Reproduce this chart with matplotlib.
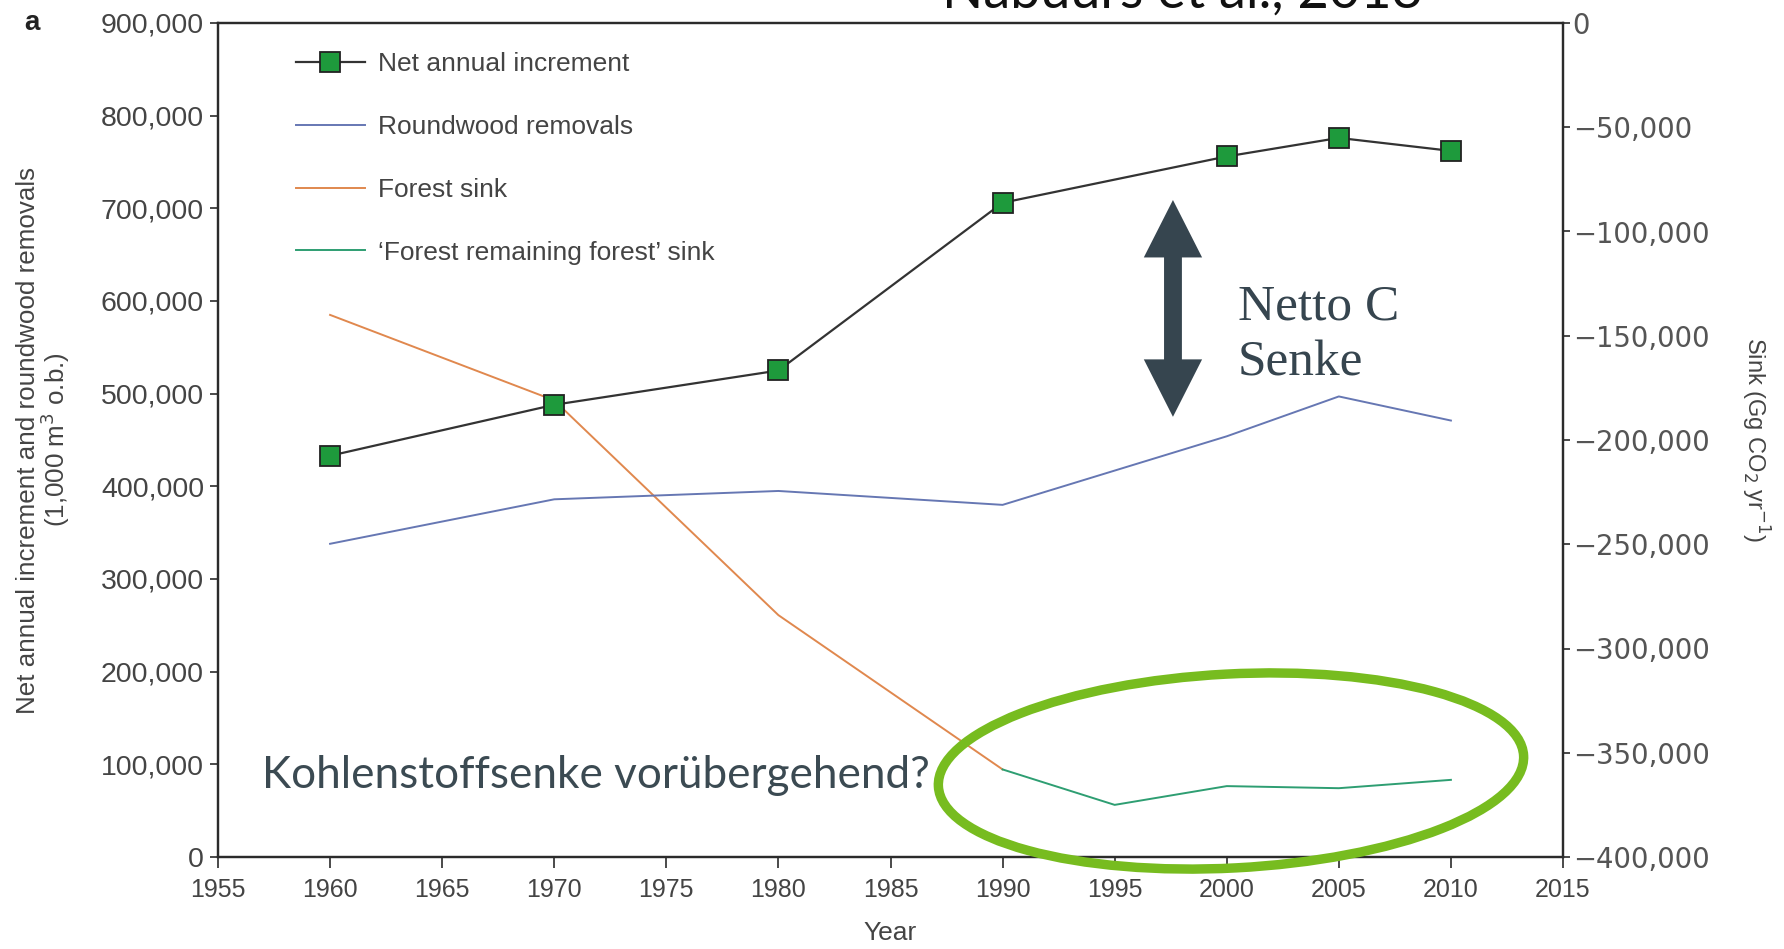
import matplotlib
matplotlib.use('Agg')
import matplotlib.pyplot as plt
import matplotlib.patches as mpatches
from matplotlib import font_manager
from matplotlib.ticker import FuncFormatter, MultipleLocator
from matplotlib.transforms import IdentityTransform

# ---------------- data ----------------
years_nai = [1960, 1970, 1980, 1990, 2000, 2005, 2010]
net_annual_increment = [433000, 488000, 525000, 706000, 756000, 776000, 762000]

years_rw = [1960, 1970, 1980, 1990, 2000, 2005, 2010]
roundwood_removals = [338000, 386000, 395000, 380000, 454000, 497000, 471000]

years_fs = [1960, 1970, 1980, 1990]
forest_sink = [-140000, -181000, -284000, -358000]

years_frf = [1990, 1995, 2000, 2005, 2010]
frf_sink = [-358000, -375000, -366000, -367000, -363000]

legend_labels = ["Net annual increment", "Roundwood removals", "Forest sink",
                 "\u2018Forest remaining forest\u2019 sink"]

# ---------------- styling ----------------
W, H, DPI = 1784, 949, 100
installed = {f.name for f in font_manager.fontManager.ttflist}
narrow = 'Liberation Sans Narrow' if 'Liberation Sans Narrow' in installed else (
    'DejaVu Sans Condensed' if 'DejaVu Sans Condensed' in installed else 'Liberation Sans')
sans = 'Liberation Sans'
callout = 'Lato'
slate = '#36454f'
tick_col = '#444444'
spine_col = '#2b2b2b'

plt.rcParams['font.family'] = [sans, 'DejaVu Sans']

fig = plt.figure(figsize=(W / DPI, H / DPI), dpi=DPI)
fig.patch.set_facecolor('white')
L, R, T, B = 218, 1563, 23, 857
ax = fig.add_axes([L / W, 1 - B / H, (R - L) / W, (B - T) / H])
ax2 = ax.twinx()

ax.set_xlim(1955, 2015)
ax.set_ylim(0, 900000)
ax2.set_ylim(-400000, 0)
ax.xaxis.set_major_locator(MultipleLocator(5))
ax.yaxis.set_major_locator(MultipleLocator(100000))
ax2.yaxis.set_major_locator(MultipleLocator(50000))
ax.yaxis.set_major_formatter(FuncFormatter(lambda v, p: f"{v:,.0f}"))
ax2.yaxis.set_major_formatter(FuncFormatter(
    lambda v, p: ("\u2212" if v < 0 else "") + f"{abs(v):,.0f}"))

for a in (ax, ax2):
    for s in a.spines.values():
        s.set_color(spine_col)
        s.set_linewidth(1.6)

ax.tick_params(axis='x', direction='out', length=8, width=1.2, color=spine_col,
               labelsize=18, labelcolor=tick_col, pad=7)
ax.tick_params(axis='y', direction='out', length=6, width=1.2, color=spine_col,
               labelsize=20.5, labelcolor=tick_col, pad=4)
ax2.tick_params(axis='y', direction='out', length=5, width=1.2, color=spine_col,
                labelsize=19.8, labelcolor='#555555', pad=2)
for lab in ax.get_xticklabels():
    lab.set_family(narrow)
for lab in ax.get_yticklabels():
    lab.set_family(sans)
for lab in ax2.get_yticklabels():
    lab.set_family('DejaVu Sans')

# ---------------- series ----------------
l_rw, = ax.plot(years_rw, roundwood_removals, color='#6677b3', lw=1.4, zorder=3)
l_nai, = ax.plot(years_nai, net_annual_increment, color='#333333', lw=1.6,
                 marker='s', markersize=14, markerfacecolor='#1e9a3c',
                 markeredgecolor='#222222', markeredgewidth=1.3, zorder=4)
l_fs, = ax2.plot(years_fs, forest_sink, color='#e0884e', lw=1.4, zorder=3)
l_frf, = ax2.plot(years_frf, frf_sink, color='#2e9e72', lw=1.4, zorder=3)
ax.set_zorder(2)
ax.patch.set_visible(False)
ax2.set_zorder(1)

leg = ax.legend([l_nai, l_rw, l_fs, l_frf], legend_labels, loc='upper left',
                bbox_to_anchor=(0.058, 0.965), frameon=False, fontsize=19,
                handlelength=2.6, handletextpad=0.5, labelspacing=1.47,
                borderpad=0, borderaxespad=0)
for t in leg.get_texts():
    t.set_color(tick_col)

# axis labels
ax.set_xlabel("Year", fontsize=19, color=tick_col, family=narrow, labelpad=14)
ax.set_ylabel("Net annual increment and roundwood removals\n(1,000 m$^3$ o.b.)",
              fontsize=18.7, color=tick_col, labelpad=21, linespacing=0.95)
ax2.set_ylabel("Sink (Gg CO$_2$ yr$^{-1}$)", fontsize=17, color=tick_col,
               rotation=-90, labelpad=44, family=narrow)

fig.text(32 / W, 1 - 23 / H, "a", fontsize=20, fontweight='bold', color='#222222',
         ha='center', va='center', family=narrow)

# ---------------- annotations ----------------
# double arrow "Netto C Senke": two overlapping full-length arrows
ax_x, y_top, y_bot = 1997.6, 709000, 475000
for y0, y1 in ((y_bot + 30000, y_top), (y_top - 30000, y_bot)):
    ax.add_patch(mpatches.FancyArrow(ax_x, y0, 0, y1 - y0, width=0.78,
                                     head_width=2.6, head_length=62000,
                                     length_includes_head=True, color=slate,
                                     lw=0, zorder=5))
for txt, base in (("Netto C", 320), ("Senke", 375)):
    fig.text(1238 / W, 1 - base / H, txt, fontsize=37, color=slate,
             family='Liberation Serif', ha='left', va='baseline')

# ellipse
fig.add_artist(mpatches.Ellipse((1231, H - 771), 586, 194, angle=3,
                                transform=IdentityTransform(), fill=False,
                                edgecolor='#77bc1f', lw=6.8, zorder=10))

# callout text
t1 = fig.text(262 / W, 1 - 788 / H, "Kohlenstoffsenke vorübergehend?",
              fontsize=30, color='#3b4a52', family=callout, ha='left',
              va='baseline')
t2 = fig.text(942 / W, 1 - 8 / H, "Nabuurs et al., 2013", fontsize=30,
              color='#111111', family=callout, ha='left', va='baseline')

# fit text widths to reference
fig.canvas.draw()
r = fig.canvas.get_renderer()
for t, target in ((t1, 666), (t2, 480)):
    w = t.get_window_extent(r).width
    t.set_fontsize(t.get_fontsize() * target / w)

fig.savefig("out.png", dpi=DPI, facecolor='white')
